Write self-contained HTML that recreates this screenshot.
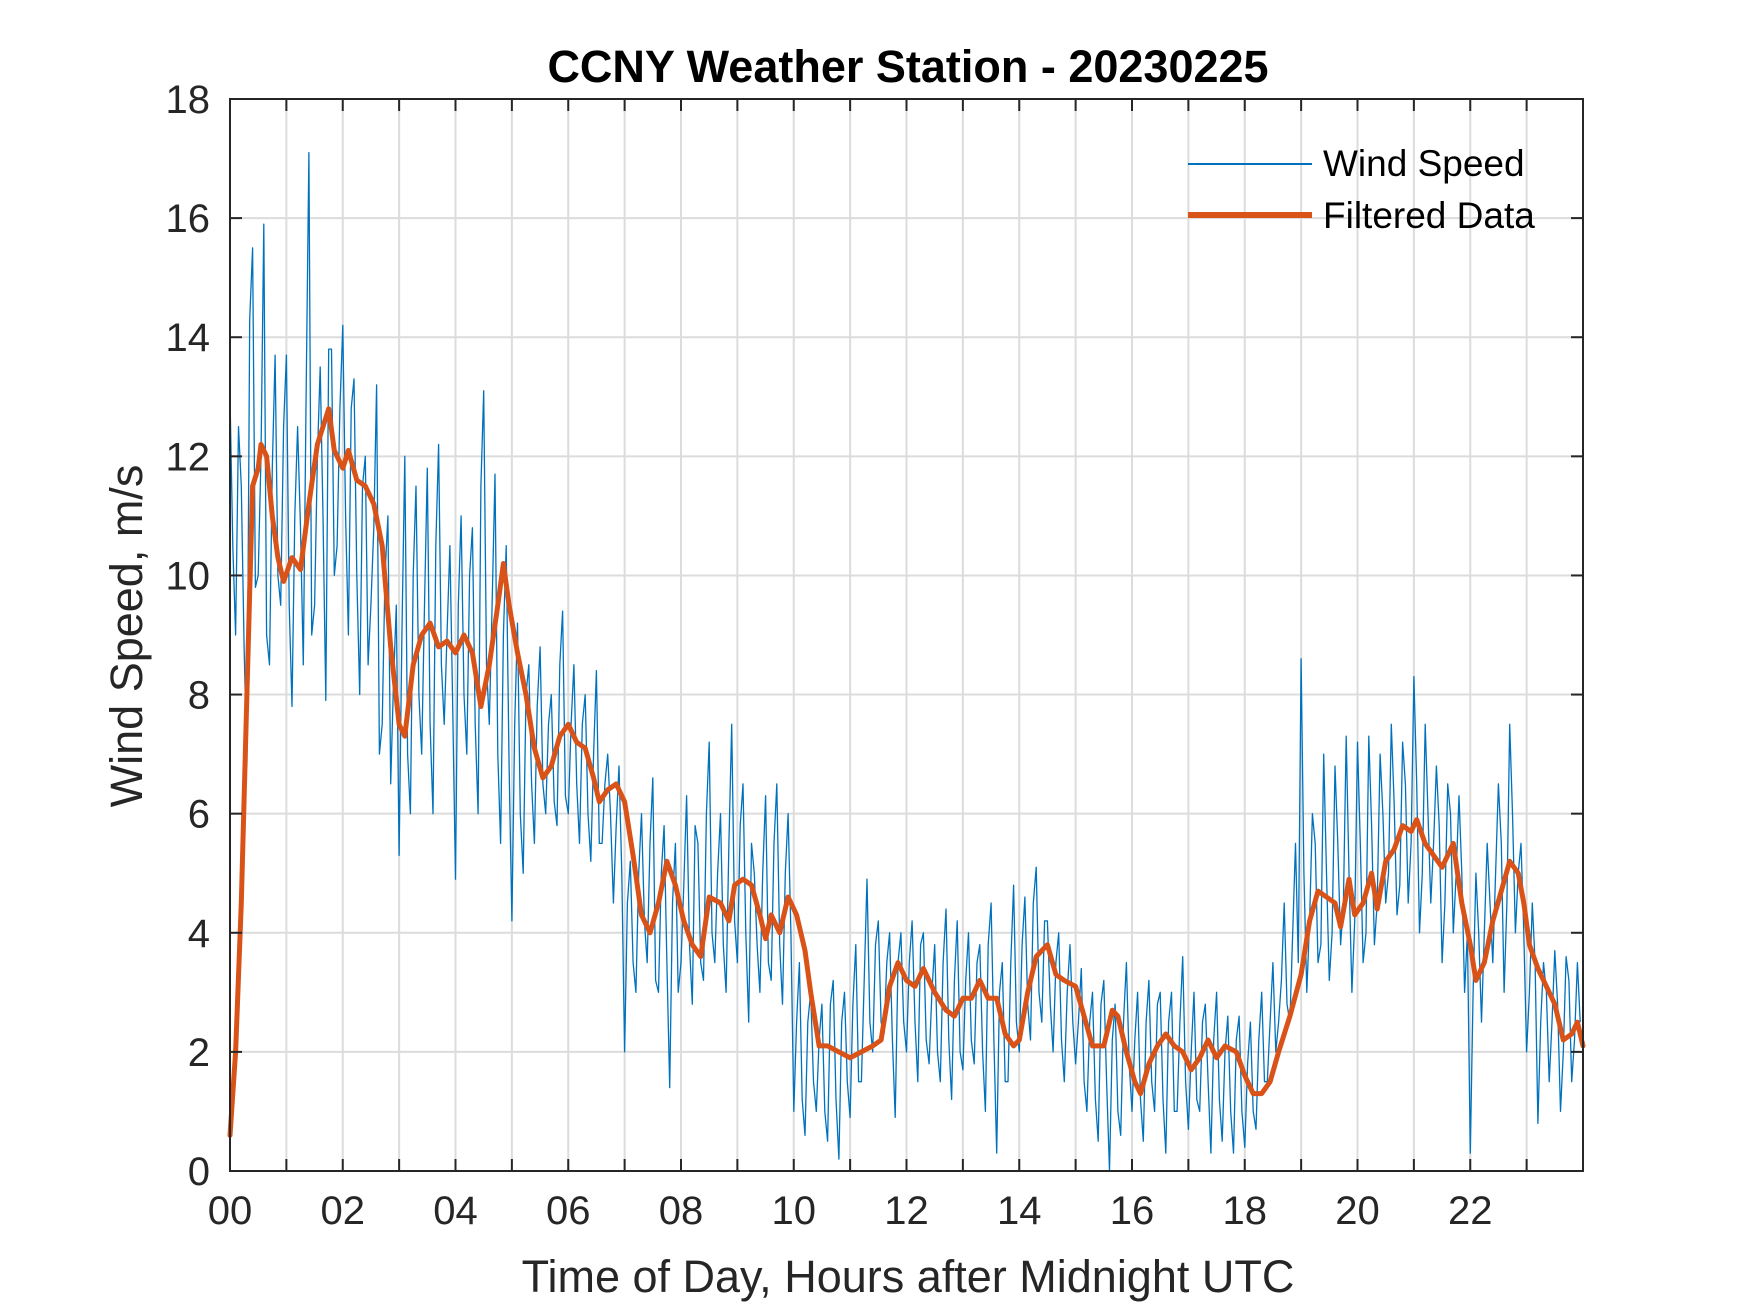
<!DOCTYPE html>
<html><head><meta charset="utf-8">
<style>
html,body{margin:0;padding:0;background:#fff;}
svg{display:block;font-family:"Liberation Sans",Arial,sans-serif;}
</style></head>
<body>
<svg id="chart" width="1750" height="1313" viewBox="0 0 1750 1313" xmlns="http://www.w3.org/2000/svg">
  <rect x="0" y="0" width="1750" height="1313" fill="#fff"/>
  <g id="grid"></g>
  <g id="series"></g>
  <g id="axes"></g>
  <text x="908" y="82" text-anchor="middle" font-size="45" font-weight="bold" fill="#000">CCNY Weather Station - 20230225</text>
  <text x="908" y="1292" text-anchor="middle" font-size="45" fill="#262626">Time of Day, Hours after Midnight UTC</text>
  <text transform="translate(142,636) rotate(-90)" text-anchor="middle" font-size="45" fill="#262626">Wind Speed, m/s</text>
  <g>
    <line x1="1188" y1="164" x2="1312" y2="164" stroke="#0072BD" stroke-width="2"/>
    <text x="1323" y="176" font-size="37" fill="#000">Wind Speed</text>
    <line x1="1188" y1="215" x2="1312" y2="215" stroke="#D95319" stroke-width="6"/>
    <text x="1323" y="228" font-size="37" fill="#000">Filtered Data</text>
  </g>
</svg>
<script>
const xTickLabels = ["00","02","04","06","08","10","12","14","16","18","20","22"];
const yTickLabels = [0,2,4,6,8,10,12,14,16,18];
const windSpeed = [
13,9,11.5,6.8,15.5,10,15.9,8.5,13.7,9.5,
13.7,7.8,12.5,8.5,17.1,9.5,13.5,7.9,13.8,10.5,
14.2,9.0,13.3,8.0,12.0,9.5,13.2,7.5,11.0,8.2,
5.3,12.0,6.0,11.5,7.0,11.8,6.0,12.2,7.5,10.5,
4.9,11.0,7.0,10.8,6.0,13.1,7.5,11.7,5.5,10.5,
4.2,9.2,5.0,8.5,5.5,8.8,6.0,8.0,5.8,9.4,
6.0,8.5,5.5,8.0,5.2,8.4,5.5,7.0,4.5,6.8,
2.0,5.2,3.0,6.0,3.5,6.6,3.0,5.8,1.4,5.5,
3.5,6.3,2.8,5.5,3.2,7.2,3.5,6.0,3.0,7.5,
3.5,6.5,2.5,5.0,3.0,6.3,3.2,6.5,2.8,6.0,
1.0,3.5,0.6,3.0,1.0,2.8,0.5,3.2,0.2,3.0,
0.9,3.8,1.5,4.9,2.0,4.2,2.3,4.0,0.9,4.0,
2.0,4.2,1.5,4.0,1.8,3.8,1.5,4.4,1.2,4.2,
1.7,4.0,1.8,3.8,1.0,4.5,0.3,3.5,1.5,4.8,
2.0,4.6,2.2,5.1,2.5,4.2,2.0,4.0,1.5,3.8,
1.8,3.4,1.0,3.0,0.5,3.2,0.0,2.8,0.6,3.5,
1.0,3.0,0.5,3.2,1.0,3.0,0.3,3.0,1.0,3.6,
0.7,3.0,1.0,2.8,0.3,3.0,0.5,2.6,0.3,2.6,
0.4,2.5,0.7,3.0,1.5,3.5,2.5,4.5,2.5,5.5,
8.6,3.0,6.0,3.5,7.0,3.2,6.8,3.8,7.3,3.0,
7.2,3.5,7.3,3.8,7.0,4.5,7.5,4.3,7.2,4.5,
8.3,4.0,7.5,4.5,6.8,3.5,6.5,4.0,6.3,3.0,
0.3,5.0,2.5,5.5,3.5,6.5,3.0,7.5,4.0,5.5,
2.0,4.5,0.8,3.5,1.5,3.7,1.0,3.6,1.5,3.5
];
const windSpeedMid = [
10.5,12.5,8.8,14.3,9.8,12.0,9.0,11.8,10.0,12.5,
9.5,11.0,10.8,13.0,9.0,12.0,11.0,13.8,10.0,12.8,
11.0,12.8,10.0,11.5,8.5,10.8,7.0,10.0,6.5,9.5,
9.0,7.0,10.0,8.0,9.5,7.5,10.5,8.5,9.0,7.8,
9.5,8.0,10.0,7.5,11.5,8.5,9.5,7.0,9.0,6.8,
7.5,6.0,8.0,6.5,7.8,6.5,7.5,6.2,8.5,6.3,
7.5,6.5,7.5,6.0,7.0,5.5,6.5,6.0,5.8,5.0,
4.5,3.5,5.0,4.2,5.5,3.2,5.0,3.5,4.5,3.0,
4.8,3.8,5.8,3.5,6.0,4.0,5.0,3.8,5.5,4.2,
5.8,4.0,5.5,3.8,5.0,3.5,5.5,3.8,5.0,4.0,
2.5,1.2,2.5,1.5,2.2,1.0,2.8,1.2,2.5,1.5,
2.8,1.5,3.2,2.5,3.8,2.5,3.5,2.2,3.5,2.5,
3.5,2.5,3.8,2.2,3.0,2.0,3.5,2.2,3.2,2.0,
3.2,2.2,3.5,2.0,3.8,2.2,3.0,1.5,3.5,2.5,
3.8,2.8,4.5,3.0,4.2,2.8,3.5,2.2,3.0,2.5,
2.5,1.5,2.5,1.2,2.8,1.5,2.2,1.0,2.5,1.8,
2.2,1.2,2.5,1.5,2.8,1.2,2.5,1.0,2.5,1.5,
2.0,1.2,2.5,1.5,2.2,1.2,2.0,1.0,2.2,1.0,
1.8,1.0,2.2,1.5,2.5,2.0,3.2,2.8,4.0,3.5,
5.0,4.2,5.5,3.8,5.0,4.0,5.5,4.5,5.0,4.2,
5.5,4.0,5.8,4.5,6.0,5.0,6.2,4.8,6.5,5.5,
6.5,5.0,6.0,5.5,5.8,4.5,6.0,5.0,5.0,4.0,
3.0,4.0,4.0,4.5,5.0,5.5,4.5,6.0,5.0,4.0,
3.0,3.5,2.5,3.0,2.5,2.8,2.0,3.2,2.2,2.5
];
const filteredHours = [0,0.1,0.2,0.3,0.4,0.5,0.55,0.65,0.75,0.85,0.95,1.1,1.25,1.4,1.55,1.75,1.85,2.0,2.1,2.25,2.4,2.55,2.7,2.85,3.0,3.1,3.25,3.4,3.55,3.7,3.85,4.0,4.15,4.3,4.45,4.6,4.75,4.85,4.95,5.1,5.25,5.4,5.55,5.7,5.85,6.0,6.15,6.3,6.45,6.55,6.7,6.85,7.0,7.15,7.3,7.45,7.6,7.75,7.9,8.05,8.2,8.35,8.5,8.7,8.85,8.95,9.1,9.25,9.4,9.5,9.6,9.75,9.9,10.05,10.2,10.3,10.45,10.6,10.8,11.0,11.2,11.4,11.55,11.7,11.85,12.0,12.15,12.3,12.5,12.7,12.85,13.0,13.15,13.3,13.45,13.6,13.75,13.9,14.0,14.15,14.3,14.5,14.65,14.8,15.0,15.15,15.3,15.5,15.65,15.75,15.9,16.05,16.15,16.3,16.45,16.6,16.75,16.9,17.05,17.2,17.35,17.5,17.65,17.85,18.0,18.15,18.3,18.45,18.6,18.8,19.0,19.15,19.3,19.45,19.6,19.7,19.85,19.95,20.1,20.25,20.35,20.5,20.65,20.8,20.95,21.05,21.2,21.35,21.5,21.7,21.85,22.0,22.1,22.25,22.4,22.55,22.7,22.85,22.95,23.05,23.2,23.35,23.5,23.65,23.8,23.9,24.0];
const filteredValues = [0.6,2,4.5,8,11.5,11.8,12.2,12,11,10.3,9.9,10.3,10.1,11.2,12.2,12.8,12.1,11.8,12.1,11.6,11.5,11.2,10.5,8.8,7.5,7.3,8.5,9,9.2,8.8,8.9,8.7,9,8.7,7.8,8.5,9.5,10.2,9.5,8.7,8.0,7.1,6.6,6.8,7.3,7.5,7.2,7.1,6.6,6.2,6.4,6.5,6.2,5.3,4.3,4.0,4.5,5.2,4.8,4.2,3.8,3.6,4.6,4.5,4.2,4.8,4.9,4.8,4.3,3.9,4.3,4.0,4.6,4.3,3.7,3.0,2.1,2.1,2.0,1.9,2.0,2.1,2.2,3.1,3.5,3.2,3.1,3.4,3.0,2.7,2.6,2.9,2.9,3.2,2.9,2.9,2.3,2.1,2.2,3.0,3.6,3.8,3.3,3.2,3.1,2.6,2.1,2.1,2.7,2.6,2.0,1.5,1.3,1.8,2.1,2.3,2.1,2.0,1.7,1.9,2.2,1.9,2.1,2.0,1.6,1.3,1.3,1.5,2.0,2.6,3.3,4.2,4.7,4.6,4.5,4.1,4.9,4.3,4.5,5.0,4.4,5.2,5.4,5.8,5.7,5.9,5.5,5.3,5.1,5.5,4.5,3.8,3.2,3.5,4.2,4.7,5.2,5.0,4.5,3.8,3.4,3.1,2.8,2.2,2.3,2.5,2.1];

const NS = "http://www.w3.org/2000/svg";
const L = 230, R = 1583, T = 99, B = 1171;
const xMax = 24, yMax = 18;
function xs(h){ return L + (R - L) * h / xMax; }
function ys(v){ return B - (B - T) * v / yMax; }
function mk(tag, attrs, parent){
  const e = document.createElementNS(NS, tag);
  for (const k in attrs) e.setAttribute(k, attrs[k]);
  parent.appendChild(e);
  return e;
}
const grid = document.getElementById('grid');
const axes = document.getElementById('axes');
const series = document.getElementById('series');

for (let h = 1; h < 24; h++) {
  const g = mk('line', {x1: xs(h), x2: xs(h), y1: T, y2: B, stroke: '#dcdcdc', 'stroke-width': 2}, grid);
  
  
}
for (let i = 1; i < yTickLabels.length - 1; i++) {
  const v = yTickLabels[i];
  const g = mk('line', {x1: L, x2: R, y1: ys(v), y2: ys(v), stroke: '#dcdcdc', 'stroke-width': 2}, grid);
  
  
}

let d = '';
windSpeed.forEach((v, i) => {
  d += (i ? 'L' : 'M') + xs(i * 0.1).toFixed(1) + ',' + ys(v).toFixed(1);
  if (i * 0.1 + 0.05 < 24) d += 'L' + xs(i * 0.1 + 0.05).toFixed(1) + ',' + ys(windSpeedMid[i]).toFixed(1);
});
const ws = mk('path', {d: d, fill: 'none', stroke: '#0072BD', 'stroke-width': 1.3, 'stroke-linejoin': 'round'}, series);



let d2 = '';
filteredValues.forEach((v, i) => { d2 += (i ? 'L' : 'M') + xs(filteredHours[i]).toFixed(1) + ',' + ys(v).toFixed(1); });
const fd = mk('path', {d: d2, fill: 'none', stroke: '#D95319', 'stroke-width': 5, 'stroke-linejoin': 'round', 'stroke-linecap': 'round'}, series);



const box = mk('rect', {x: L, y: T, width: R - L, height: B - T, fill: 'none', stroke: '#262626', 'stroke-width': 2}, axes);



for (let h = 1; h < 24; h++) {
  const t1 = mk('line', {x1: xs(h), x2: xs(h), y1: B, y2: B - 12, stroke: '#262626', 'stroke-width': 2}, axes);
  
  
  const t2 = mk('line', {x1: xs(h), x2: xs(h), y1: T, y2: T + 12, stroke: '#262626', 'stroke-width': 2}, axes);
  
  
}
xTickLabels.forEach((lab, i) => {
  const t = mk('text', {x: xs(i * 2), y: B + 53, 'text-anchor': 'middle', 'font-size': 40, fill: '#262626'}, axes);
  t.textContent = lab;
  
  
});
yTickLabels.forEach((v) => {
  const a = mk('line', {x1: L, x2: L + 12, y1: ys(v), y2: ys(v), stroke: '#262626', 'stroke-width': 2}, axes);
  
  
  const b = mk('line', {x1: R, x2: R - 12, y1: ys(v), y2: ys(v), stroke: '#262626', 'stroke-width': 2}, axes);
  
  
  const t = mk('text', {x: L - 20, y: ys(v) + 14, 'text-anchor': 'end', 'font-size': 40, fill: '#262626'}, axes);
  t.textContent = v;
  
  
});
</script>
</body></html>
